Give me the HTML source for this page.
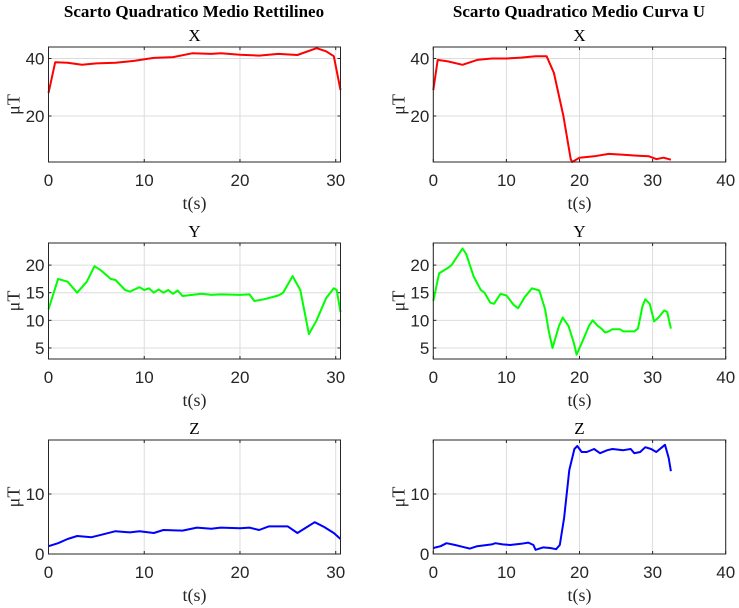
<!DOCTYPE html>
<html><head><meta charset="utf-8">
<style>
html,body{margin:0;padding:0;background:#fff;}
svg{display:block;}
</style></head>
<body>
<svg id="chart" width="739" height="608" xmlns="http://www.w3.org/2000/svg">
<text x="194" y="17" text-anchor="middle" font-family="Liberation Serif, serif" font-weight="bold" font-size="17">Scarto Quadratico Medio Rettilineo</text>
<text x="579" y="17" text-anchor="middle" font-family="Liberation Serif, serif" font-weight="bold" font-size="17">Scarto Quadratico Medio Curva U</text>
</svg>
<script>
const lxT=[0,0.7,2,3.5,5,7,9,11,13,15,17,18,20,22,24,26,28,29,29.8,30.5];
const lxV=[28,38.7,38.5,37.8,38.3,38.5,39.2,40.2,40.5,41.8,41.6,41.8,41.3,41,41.6,41.2,43.6,42.5,40.8,29];
const rxT=[0,0.6,2,4,6,8,10,12,14,15.5,16.5,17.8,18.8,19,20,22,24,26,28,29.5,30.5,31.5,32.5];
const rxV=[29,39.5,39,37.8,39.5,40,40,40.3,40.8,40.8,35,20,5,4,5.5,6,6.8,6.5,6.2,6,5,5.5,4.8];
const lyT=[0,1,2,3,4,4.8,5.5,6.5,7,8,8.5,9.5,10,10.5,11,11.5,12,12.5,13,13.5,14,15,16,17,18,20,21,21.5,22.5,24,24.5,25.5,26.3,27.2,28,29,29.8,30.1,30.5];
const lyV=[12,17.5,17,15,17,19.8,19,17.5,17.3,15.5,15.2,16,15.5,15.8,15,15.6,15,15.5,14.8,15.4,14.4,14.6,14.8,14.6,14.7,14.6,14.7,13.5,13.8,14.5,15,18,15.5,7.5,10,14,15.8,15.5,11.5];
const ryT=[0,0.8,2,2.5,3.5,4,4.5,5.5,6.5,7,7.8,8.3,9.2,10,11,11.6,12.5,13.5,14.5,15.3,15.8,16.3,17.2,17.7,18.5,19.2,19.6,20.5,21.3,21.8,22.5,23,23.5,24,24.5,25.5,26,27.5,28,28.6,29,29.6,30.2,30.8,31.6,32,32.5];
const ryV=[13.5,18.5,19.5,20,22,23,22,18,15.5,15,13.2,13,14.8,14.5,12.8,12.2,14.2,15.8,15.4,12,8,5,9,10.5,9,6,3.8,6.5,9,10,9,8.5,7.8,8,8.4,8.4,8,8,8.5,12.5,13.8,13,9.8,10.5,11.8,11.5,8.5];
const lzT=[0,1,2,3,4.5,5.5,7,8.5,9.5,11,12,14,15.5,17,18,20,21,22,23,25,26,27,27.8,28.8,29.8,30.5];
const lzV=[1.3,1.8,2.5,3,2.8,3.2,3.8,3.6,3.8,3.5,4,3.9,4.4,4.2,4.4,4.3,4.4,4,4.6,4.6,3.5,4.5,5.3,4.5,3.5,2.5];
const rzT=[0,1,1.8,3,4,5,6,8,8.5,9.5,10.5,12,13,13.7,14,15,16,16.8,17.3,17.9,18.6,19.3,19.7,20.3,21,22,22.8,23.8,24.5,26,27,27.5,28.3,29,29.8,30.5,31.3,31.7,32.2,32.5];
const rzV=[1,1.3,1.8,1.5,1.2,0.9,1.3,1.6,1.8,1.6,1.5,1.7,1.9,1.5,0.7,1.1,1,0.8,1.5,6,14,17.5,18,17,17,17.5,16.8,17.3,17.5,17.3,17.5,16.8,17,17.8,17.5,17,17.8,18.2,16,13.8];
const xTicksL=[0,10,20,30], xTicksR=[0,10,20,30,40];
const yTicksX=[20,40], yTicksY=[5,10,15,20], yTicksZ=[0,10];

const NS="http://www.w3.org/2000/svg";
const svg=document.getElementById('chart');
function mk(tag,attrs,parent){const e=document.createElementNS(NS,tag);for(const k in attrs)e.setAttribute(k,attrs[k]);(parent||svg).appendChild(e);return e;}

const cols=[{x0:48.5,x1:340.5,xmax:30.5,ticks:xTicksL,side:'left'},{x0:433.3,x1:725.7,xmax:40,ticks:xTicksR,side:'right'}];
const rows=[{y0:47,y1:162,ymin:4,ymax:44,ticks:yTicksX,title:'X'},{y0:243,y1:359,ymin:3,ymax:24,ticks:yTicksY,title:'Y'},{y0:440,y1:554,ymin:0,ymax:19,ticks:yTicksZ,title:'Z'}];
const series=[[[lxT,lxV],[rxT,rxV]],[[lyT,lyV],[ryT,ryV]],[[lzT,lzV],[rzT,rzV]]];
const colors=['#ff0000','#00ff00','#0000ff'];

rows.forEach((r,ri)=>{cols.forEach((c,ci)=>{
  const g=mk('g',{});
  
  
  const sx=v=>c.x0+(v/c.xmax)*(c.x1-c.x0);
  const sy=v=>r.y1-(v-r.ymin)/(r.ymax-r.ymin)*(r.y1-r.y0);
  mk('rect',{x:c.x0,y:r.y0,width:c.x1-c.x0,height:r.y1-r.y0,fill:'#fff'},g);
  c.ticks.forEach(t=>{const X=sx(t);
    const gl=mk('line',{x1:X,x2:X,y1:r.y0,y2:r.y1,stroke:'#dcdcdc','stroke-width':1},g);
    
    mk('line',{x1:X,x2:X,y1:r.y1,y2:r.y1-3,stroke:'#262626'},g);
    mk('line',{x1:X,x2:X,y1:r.y0,y2:r.y0+3,stroke:'#262626'},g);
    const tl=mk('text',{x:X,y:r.y1+24,'text-anchor':'middle','font-family':'Liberation Sans, sans-serif','font-size':17,fill:'#262626'},g);
    tl.textContent=t;
    
  });
  r.ticks.forEach(t=>{const Y=sy(t);
    const gl=mk('line',{x1:c.x0,x2:c.x1,y1:Y,y2:Y,stroke:'#dcdcdc','stroke-width':1},g);
    
    mk('line',{x1:c.x0,x2:c.x0+3,y1:Y,y2:Y,stroke:'#262626'},g);
    mk('line',{x1:c.x1,x2:c.x1-3,y1:Y,y2:Y,stroke:'#262626'},g);
    const tl=mk('text',{x:c.x0-4,y:Y+6,'text-anchor':'end','font-family':'Liberation Sans, sans-serif','font-size':17,fill:'#262626'},g);
    tl.textContent=t;
    
  });
  const [T,V]=series[ri][ci];
  const d=T.map((t,i)=>(i?'L':'M')+sx(t).toFixed(1)+','+sy(V[i]).toFixed(1)).join(' ');
  const p=mk('path',{d:d,fill:'none',stroke:colors[ri],'stroke-width':2,'stroke-linejoin':'round'},g);
  
  
  mk('rect',{x:c.x0,y:r.y0,width:c.x1-c.x0,height:r.y1-r.y0,fill:'none',stroke:'#262626','stroke-width':1},g);
  const tt=mk('text',{x:(c.x0+c.x1)/2,y:r.y0-6,'text-anchor':'middle','font-family':'Liberation Serif, serif','font-size':17},g);
  tt.textContent=r.title;
  
  const xl=mk('text',{x:(c.x0+c.x1)/2,y:r.y1+47,'text-anchor':'middle','font-family':'Liberation Serif, serif','font-size':18,fill:'#262626'},g);
  xl.textContent='t(s)';
  
  const yx=c.x0-29, yy=(r.y0+r.y1)/2;
  const yl=mk('text',{x:yx,y:yy,'text-anchor':'middle','font-family':'Liberation Serif, serif','font-size':18,fill:'#262626',transform:'rotate(-90 '+yx+' '+yy+')'},g);
  yl.textContent='μT';
  
});});
</script>
</body></html>
